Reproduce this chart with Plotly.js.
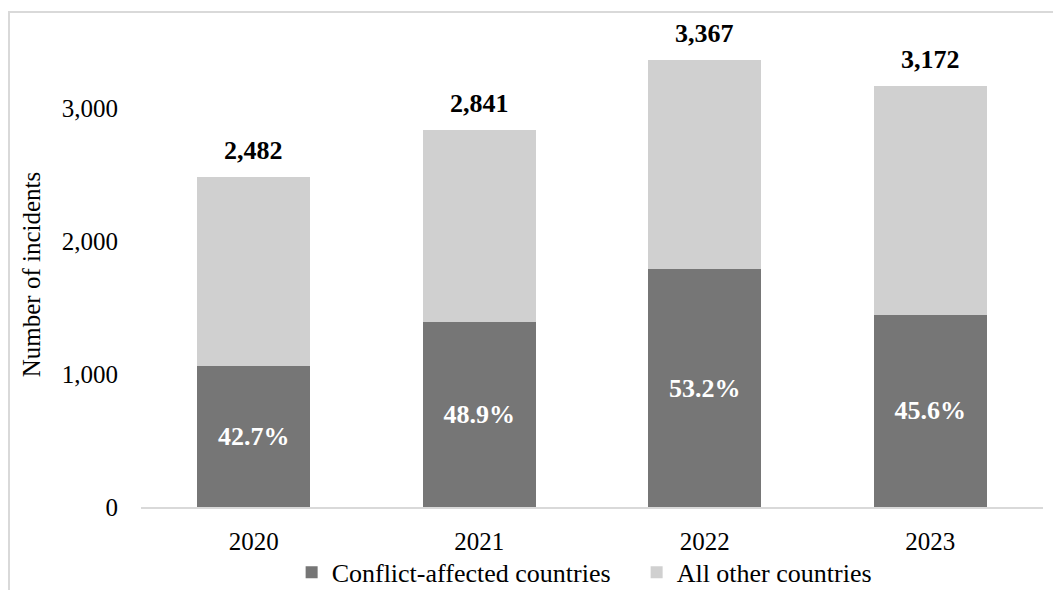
<!DOCTYPE html>
<html>
<head>
<meta charset="utf-8">
<script src="https://cdn.plot.ly/plotly-3.0.1.min.js"></script>
<style>
html,body{margin:0;padding:0;background:#fff;overflow:hidden;}
#wrap{position:relative;width:1053px;height:590px;}
#frame{position:absolute;left:8px;top:11px;width:1100px;height:700px;border:2px solid #d9d9d9;box-sizing:border-box;pointer-events:none;}
#chart{position:absolute;left:0;top:0;width:1053px;height:590px;}
</style>
</head>
<body>
<div id="wrap">
<div id="chart"></div>
<div id="frame"></div>
</div>
<script>
const years = ['2020', '2021', '2022', '2023'];
const conflictValues = [1060, 1389, 1791, 1446];
const otherValues = [1422, 1452, 1576, 1726];
const totals = [2482, 2841, 3367, 3172];
const shareLabels = ['42.7%', '48.9%', '53.2%', '45.6%'];
const seriesNames = ['Conflict-affected countries', 'All other countries'];

const FONT = "'Liberation Serif', 'Times New Roman', serif";

const traces = [
  {
    type: 'bar', name: seriesNames[0], x: years, y: conflictValues,
    marker: {color: '#767676'},
    text: shareLabels.map(s => '<b>' + s + '</b>'),
    textposition: 'inside', insidetextanchor: 'middle',
    textfont: {family: FONT, size: 26, color: '#ffffff'},
    insidetextfont: {family: FONT, size: 26, color: '#ffffff'},
    hoverinfo: 'x+y+name'
  },
  {
    type: 'bar', name: seriesNames[1], x: years, y: otherValues,
    marker: {color: '#d0d0d0'},
    hoverinfo: 'x+y+name'
  }
];

const annotations = years.map((yr, i) => ({
  x: i, y: totals[i], xref: 'x', yref: 'y',
  text: '<b>' + totals[i].toLocaleString('en-US') + '</b>',
  showarrow: false, yanchor: 'bottom', yshift: 10,
  font: {family: FONT, size: 26, color: '#000000'}
}));

const layout = {
  width: 1053, height: 590,
  margin: {l: 141, r: 10, t: 42, b: 83, autoexpand: false},
  paper_bgcolor: 'rgba(0,0,0,0)', plot_bgcolor: 'rgba(0,0,0,0)',
  barmode: 'stack', bargap: 0.5,
  font: {family: FONT, size: 25, color: '#000000'},
  showlegend: true,
  legend: {orientation: 'h', xref: 'paper', x: 0.167, xanchor: 'left',
           yref: 'container', y: 0.03, yanchor: 'middle',
           font: {family: FONT, size: 26, color: '#000000'}, traceorder: 'normal',
           itemwidth: 30, tracegroupgap: 0, entrywidth: 300},
  xaxis: {
    type: 'category', categoryorder: 'array', categoryarray: years,
    range: [-0.5, 3.5],
    showgrid: false, zeroline: false,
    showline: true, linecolor: '#d9d9d9', linewidth: 2,
    ticks: '', ticklabelstandoff: 11,
    tickfont: {family: FONT, size: 25, color: '#000000'},
    fixedrange: true
  },
  yaxis: {
    range: [0, 3500], tickvals: [0, 1000, 2000, 3000],
    tickformat: ',d', showgrid: false, zeroline: false, showline: false,
    ticks: '', ticklabelstandoff: 22,
    tickfont: {family: FONT, size: 25, color: '#000000'},
    title: {text: 'Number of incidents', standoff: 14, font: {family: FONT, size: 25, color: '#000000'}},
    fixedrange: true
  },
  annotations: annotations
};

Plotly.newPlot('chart', traces, layout, {displayModeBar: false, responsive: false});
</script>
</body>
</html>
